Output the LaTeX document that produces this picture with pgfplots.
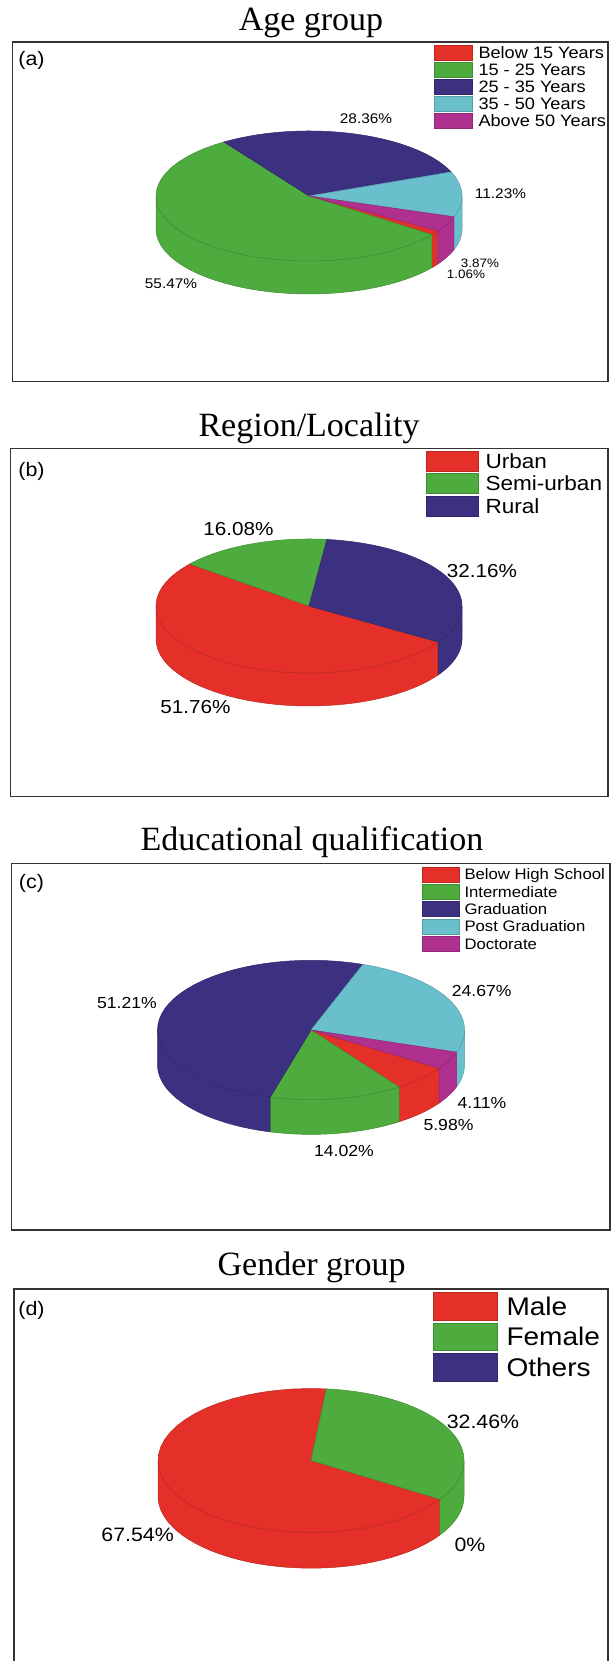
\documentclass[border=0pt]{standalone}
\usepackage{fontspec}
\setmainfont{Liberation Serif}
\newfontfamily\widesans[FakeStretch=1.1]{Liberation Sans}
\usepackage{pgfplots}
\usepackage{pgfplotstable}
\pgfplotsset{compat=1.18}

\definecolor{pieRed}{RGB}{229,48,42}
\definecolor{pieGreen}{RGB}{78,172,62}
\definecolor{pieNavy}{RGB}{59,49,128}
\definecolor{pieCyan}{RGB}{105,191,203}
\definecolor{pieMagenta}{RGB}{176,48,143}

% Shares in per cent, legend order; lx, ly and fs place and size the value label.
\pgfplotstableread[col sep=comma]{
name,share,colour,lx,ly,fs
Below 15 Years,1.06,pieRed,466,274,12.2
15 - 25 Years,55.47,pieGreen,171,283.3,14
25 - 35 Years,28.36,pieNavy,366,119,14
35 - 50 Years,11.23,pieCyan,500.5,193.3,14
Above 50 Years,3.87,pieMagenta,480,263,12.2
}\tableAge
\pgfplotstableread[col sep=comma]{
name,share,colour,lx,ly,fs
Urban,51.76,pieRed,195.5,706.7,18.8
Semi-urban,16.08,pieGreen,238.5,529,18.8
Rural,32.16,pieNavy,482,571,18.8
}\tableRegion
\pgfplotstableread[col sep=comma]{
name,share,colour,lx,ly,fs
Below High School,5.98,pieRed,448.5,1125,16
Intermediate,14.02,pieGreen,344,1150.7,16
Graduation,51.21,pieNavy,127,1003.3,16
Post Graduation,24.67,pieCyan,481.7,991,16
Doctorate,4.11,pieMagenta,482,1103.3,16
}\tableEducation
\pgfplotstableread[col sep=comma]{
name,share,colour,lx,ly,fs
Male,67.54,pieRed,137.6,1535,19.4
Female,32.46,pieGreen,483,1421.7,19.4
Others,0,pieNavy,470,1545,19.4
}\tableGender

\pgfplotsset{
  pie panel/.style={
    scale only axis, clip=false, ticks=none,
    axis line style={black!80, line width=1.4pt, -},
  },
  % x, y of the legend corner; swatch width, height; row gap, text gap; font size.
  % Entry text has zero height, so it sits on the cell's baseline and the
  % swatch alone sets the row height.
  pie legend/.style n args={7}{
    legend image code/.code={\path[##1] (0pt,{-0.5*(#4-0.716*#7)*1pt})
      rectangle (#3pt,{(#4-0.5*(#4-0.716*#7))*1pt});},
    legend style={
      at={(axis cs:#1,{1661-#2})}, anchor=north west,
      draw=none, fill=none, inner sep=0pt, outer sep=0pt,
      row sep=#5pt, column sep=#6pt,
      font=\widesans\fontsize{#7}{#7}\selectfont,
      cells={anchor=base west, inner sep=0pt, text height=0pt, text depth=0pt},
    },
  },
}

\newcommand\PieLabel[4]{%
  \node[font=\widesans\fontsize{#3}{#3}\selectfont, inner sep=0pt]
    at (axis cs:#1,{1661-#2}) {#4\%};}

% Visible rim of one slice, limited to the front half between angles #3 and #4.
\newcommand\PieRim[4]{%
  \pgfmathsetmacro\hi{min(#1,#3)}%
  \pgfmathsetmacro\lo{max(#2,#4)}%
  \ifdim\hi pt>\lo pt\relax
    \edef\tmp{\noexpand\addplot[forget plot, fill=\col, draw=\col!82!black,
        line width=0.5pt, domain=0:81, samples=82]
      ({\pcx+\prx*cos(\hi+(\lo-\hi)*(x<40.5 ? x/40 : (81-x)/40))},
       {\pcy-\pry*sin(-(\hi+(\lo-\hi)*(x<40.5 ? x/40 : (81-x)/40)))-(x<40.5 ? 0 : \pdepth)})
      -- cycle;}\tmp
  \fi}

% #1 table, #2 #3 centre (y from the page top), #4 #5 radii, #6 rim depth, #7 first angle
\newcommand\DrawPie[7]{%
  \pgfplotstablegetrowsof{#1}%
  \pgfmathtruncatemacro\lastrow{\pgfplotsretval-1}%
  \edef\pcx{#2}\pgfmathsetmacro\pcy{1661-#3}\edef\prx{#4}\edef\pry{#5}\edef\pdepth{#6}%
  \pgfmathsetmacro\angA{#7}%
  \pgfplotsforeachungrouped \rowi in {0,...,\lastrow}{%
    \pgfplotstablegetelem{\rowi}{share}\of{#1}\edef\share{\pgfplotsretval}%
    \pgfplotstablegetelem{\rowi}{colour}\of{#1}\edef\col{\pgfplotsretval}%
    \pgfmathsetmacro\angB{\angA-3.6*\share}%
    \PieRim{\angA}{\angB}{0}{-180}%
    \PieRim{\angA}{\angB}{-360}{-540}%
    \let\angA\angB
  }%
  \pgfmathsetmacro\angA{#7}%
  \pgfplotsforeachungrouped \rowi in {0,...,\lastrow}{%
    \pgfplotstablegetelem{\rowi}{share}\of{#1}\edef\share{\pgfplotsretval}%
    \pgfplotstablegetelem{\rowi}{colour}\of{#1}\edef\col{\pgfplotsretval}%
    \pgfplotstablegetelem{\rowi}{name}\of{#1}\edef\entry{\pgfplotsretval}%
    \pgfplotstablegetelem{\rowi}{lx}\of{#1}\edef\lx{\pgfplotsretval}%
    \pgfplotstablegetelem{\rowi}{ly}\of{#1}\edef\ly{\pgfplotsretval}%
    \pgfplotstablegetelem{\rowi}{fs}\of{#1}\edef\fs{\pgfplotsretval}%
    \pgfmathsetmacro\angB{\angA-3.6*\share}%
    \ifdim\share pt>0pt\relax
      \edef\tmp{\noexpand\addplot[fill=\col, draw=\col!82!black,
          line width=0.5pt, domain=0:41, samples=42]
        ({\pcx+\prx*(x<40.5 ? 1 : 0)*cos(\angA+(\angB-\angA)*x/40)},
         {\pcy+\pry*(x<40.5 ? 1 : 0)*sin(\angA+(\angB-\angA)*x/40)})
        -- cycle;}\tmp
    \else
      \edef\tmp{\noexpand\addlegendimage{fill=\col, draw=\col!82!black}}\tmp
    \fi
    \edef\tmp{\noexpand\addlegendentry{\entry}}\tmp
    \edef\tmp{\noexpand\PieLabel{\lx}{\ly}{\fs}{\share}}\tmp
    \let\angA\angB
  }%
}

\newcommand\PanelTitle[3]{%
  \node[anchor=base, font=\fontsize{34}{34}\selectfont, inner sep=0pt]
    at (axis cs:#1,{1661-#2}) {#3};}
\newcommand\PanelTag[3]{%
  \node[font=\widesans\fontsize{19.5}{19.5}\selectfont, inner sep=0pt]
    at (axis cs:#1,{1661-#2}) {#3};}

\begin{document}
\begin{tikzpicture}[x=1pt,y=1pt]
\path[use as bounding box] (0,0) rectangle (613,1661);

\begin{axis}[pie panel, at={(12.5pt,1279.5pt)}, anchor=south west,
    width=595.5pt, height=339.5pt,
    xmin=12.5, xmax=608, ymin=1279.5, ymax=1619,
    pie legend={434}{45}{38}{15}{-0.2}{4}{16.5}]
  \DrawPie{\tableAge}{309}{196}{153}{65}{33}{-32.7}
  \PanelTitle{311}{31}{Age group}
  \PanelTag{31.5}{60}{(a)}
\end{axis}

\begin{axis}[pie panel, at={(10.5pt,864.3pt)}, anchor=south west,
    width=597.5pt, height=348.4pt,
    xmin=10.5, xmax=608, ymin=864.3, ymax=1212.7,
    pie legend={426}{450.7}{52}{20}{1.6}{5}{20.5}]
  \DrawPie{\tableRegion}{309}{606}{153}{67}{33}{-32.5}
  \PanelTitle{309}{436.7}{Region/Locality}
  \PanelTag{31.5}{471}{(b)}
\end{axis}

\begin{axis}[pie panel, at={(11.7pt,431pt)}, anchor=south west,
    width=598.3pt, height=366.7pt,
    xmin=11.7, xmax=610, ymin=431, ymax=797.7,
    pie legend={422}{866.7}{37}{15}{0.6}{3}{15.2}]
  \DrawPie{\tableEducation}{311}{1030}{153.5}{69.7}{34.7}{-33.4}
  \PanelTitle{312}{850.7}{Educational qualification}
  \PanelTag{31.5}{883}{(c)}
\end{axis}

% The lower edge of this frame lies below the page.
\begin{axis}[pie panel, at={(14pt,-5pt)}, anchor=south west,
    width=594pt, height=377pt,
    xmin=14, xmax=608, ymin=-5, ymax=372,
    pie legend={433}{1292.3}{64}{27.5}{2.4}{7}{25.5}]
  \DrawPie{\tableGender}{311}{1460.5}{153}{72}{35.7}{-32.6}
  \PanelTitle{311.6}{1276}{Gender group}
  \PanelTag{31.5}{1310}{(d)}
\end{axis}
\end{tikzpicture}
\end{document}
